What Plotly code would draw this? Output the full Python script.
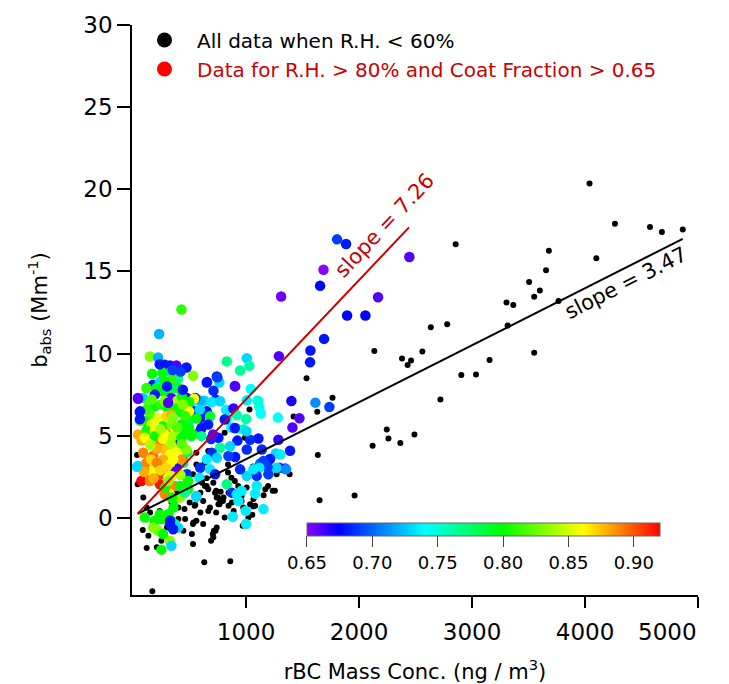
import plotly.graph_objects as go

# black points: all data when R.H. < 60%
bx = [4040, 4265, 4575, 4680, 4865, 4100, 3680, 3655, 3505, 3600, 3550, 3765, 3305, 3365, 3315,
      2855, 2780, 2635, 2560, 2460, 2430, 2380, 2905, 3035, 3155, 3550, 2720, 2490, 2365, 2245,
      2260, 2120, 2135, 1535, 1765, 1630, 1420, 1030, 1635, 1060, 1650, 1960, 1385, 1195, 1235,
      1155, 1065, 1065, 1020, 970, 1055, 975, 945, 875, 890, 845, 800, 845, 775, 740,
      770, 755, 725, 665, 635, 610, 710, 595, 620, 550, 595, 665, 740, 715, 705,
      535, 520, 460, 445, 530, 630, 860, 400, 415, 370, 170, 120, 85, 135, 210,
      255, 300, 40, 35, 90, 120, 250, 175, 400, 455, 500, 545, 530, 560, 690,
      710, 730, 620, 680, 735, 765, 810, 750, 735, 795, 650, 605, 650, 590, 560,
      635, 530, 485, 455, 440, 430, 385, 340, 310, 280, 235, 150, 840, 870, 900,
      930, 960, 840, 810, 990, 665, 560, 455, 1035, 1185, 1270, 1170, 1255, 960, 1005,
      1035, 1080]
by = [20.35, 17.9, 17.7, 17.4, 17.55, 15.8, 16.25, 15.07, 14.35, 13.84, 13.45, 13.2, 13.1, 12.95, 11.7,
      16.65, 11.78, 11.6, 10.12, 9.58, 9.3, 9.7, 8.7, 8.73, 9.6, 10.04, 7.2, 5.07, 4.56, 5.37,
      4.83, 4.38, 10.16, 8.5, 7.31, 6.46, 6.16, 6.6, 3.82, 3.13, 1.07, 1.35, 2.65, 1.94, 1.64,
      1.38, 1.13, 0.69, 0.02, -0.48, 0.18, 0.62, 1.03, 0.93, 0.42, 0.73, 1.23, 1.53, 1.58, 1.23,
      1.03, 0.83, 1.53, 1.74, 1.94, 2.14, 2.14, 1.53, 1.03, 0.79, 0.32, 0.42, -0.59, -0.79, -0.99,
      -0.28, -0.99, -0.08, -0.79, -1.6, -2.7, -2.65, 0.62, 1.33, 1.03, -4.47, -1.84, -0.75, -1.09, -1.8,
      -0.99, -0.59, 2.04, 3.82, 1.23, 0.62, -1.39, -0.69, -0.08, 0.53, 0.93, 0.73, -0.38, -0.18, -1.39,
      -1.19, -0.79, -0.38, 0.62, 0.32, 0.83, 0.02, 1.23, 1.64, 1.03, 1.94, 2.24, 2.4, 3.05, 3.25,
      3.35, 2.65, 2.75, 2.44, 1.74, 1.33, 1.53, 0.93, 1.23, 0.12, 0.42, 0.32, 2.75, 2.44, 2.24,
      1.94, 1.03, 3.25, 5.17, 4.87, 4.06, 3.96, 3.55, 2.65, 3.05, 2.65, 1.74, 1.64, 1.33, 1.84,
      0.83, 0.73]

# coloured points: R.H. > 80% and coat fraction > 0.65 (colour = coat fraction)
cx = [1805, 1885, 1685, 1655, 1310, 2445, 2168, 1894, 2056, 1690, 1569, 1566, 1290, 1006, 1029,
      1041, 1109, 1117, 1130, 1281, 1000, 1401, 1613, 1737, 1472, 1410, 1286, 1109, 1035, 1389,
      1139, 1263, 1212, 1124, 1345, 1295, 829, 947, 903, 741, 764, 652, 711, 732, 631,
      696, 593, 770, 823, 888, 917, 1006, 1100, 829, 917, 977, 870, 1301, 1270, 1354,
      1153, 1190, 1117, 1197, 1094, 1006, 1064, 947, 903, 843, 1006, 923, 755, 690, 858,
      770, 696, 741, 652, 593, 681, 726, 587, 829, 873, 917, 960, 1080, 1094, 1153,
      1000, 997, 882, 932, 558, 475, 445, 381, 372, 480, 416, 593, 460, 504, 593,
      540, 652, 519, 681, 475, 549, 481,
      428, 230, 148, 221, 280, 325, 383, 472, 333, 168, 260, 398, 339, 531, 655,
      746, 900, 177, 236, 206, 250, 304, 398, 89, 44, 192, 339, 392, 540, 496,
      590, 139, 192, 250, 304, 383, 59, 148, 221, 295, 339, 422, 496, 560, 811,
      900, 1003, 103, 162, 265, 339, 428, 496, 605, 664, 44, 118, 192, 304, 369,
      457, 530, 708, 75, 103, 192, 280, 354, 427, 515, 604, 89, 177, 236, 280,
      325, 398, 428, 470, 44, 118, 192, 265, 325, 383, 118, 177, 250, 310, 73,
      148, 236, 310, 369, 487, 487, 560, 325, 280, 354, 413, 103, 192, 236, 310,
      339, 177, 221, 265, 369, 398, 325, 339, 250, 325, 354,
      150, 210, 265, 160, 210, 290, 355, 240, 340, 180, 420, 95,
      118, 280, 360, 430, 165, 280, 440, 120, 350, 460, 60, 240, 390, 155, 335, 430,
      235, 300, 420, 310, 60, 440, 350, 42, 62, 33,
      283, 342, 357, 254, 327, 416, 460, 312]
cy = [16.95, 16.67, 15.1, 14.12, 13.47, 15.88, 13.43, 12.32, 12.32, 10.89, 10.18, 9.47, 9.84, 9.72, 9.25,
      7.84, 7.09, 6.73, 6.35, 6.1, 6.02, 7.11, 7.01, 6.75, 6.06, 5.5, 4.75, 4.83, 4.75, 4.08,
      4.16, 3.92, 3.58, 3.3, 3.0, 3.05, 9.52, 8.97, 8.0, 8.6, 8.24, 8.24, 7.74, 7.19, 7.13,
      7.05, 7.13, 7.1, 6.57, 6.65, 6.24, 7.15, 7.13, 6.04, 5.44, 5.39, 5.5, 3.85, 3.05, 2.95,
      3.45, 3.1, 3.05, 2.65, 2.55, 2.55, 2.95, 2.95, 3.7, 3.76, 4.16, 4.7, 4.87, 4.8, 4.36,
      4.26, 3.96, 3.65, 3.56, 3.05, 2.95, 2.65, 2.44, 2.04, 1.53, 1.44, 1.65, 1.47, 1.94, 0.53,
      -0.38, 0.42, 0.06, 1.03, 1.27, 2.65, 3.35, 3.15, 2.75, 4.0, 4.67, 5.27, 5.07, 5.98, 6.08,
      6.48, 6.48, 7.09, 6.18, 7.29, 7.29, 6.06,
      12.68, 11.19, 9.82, 9.76, 9.31, 9.27, 9.27, 9.15, 8.87, 8.77, 8.85, 8.47, 8.4, 8.65, 8.26,
      8.55, 8.02, 8.1, 8.26, 7.9, 7.7, 7.7, 7.9, 7.29, 7.25, 7.5, 7.29, 7.13, 7.25, 7.05,
      6.59, 6.89, 6.79, 6.9, 6.69, 6.65, 6.44, 6.3, 6.08, 6.18, 6.28, 6.44, 6.48, 6.04, 5.98,
      5.47, 5.27, 5.88, 5.68, 5.58, 5.68, 5.68, 5.47, 5.47, 5.68, 5.07, 5.3, 5.3, 5.07, 5.07,
      5.17, 5.07, 5.07, 4.7, 4.87, 4.97, 5.07, 4.97, 4.87, 4.97, 4.97, 3.96, 3.76, 4.47, 4.16,
      3.86, 4.16, 3.55, 4.16, 3.15, 3.35, 3.15, 3.55, 3.25, 2.85, 2.75, 2.75, 2.65, 2.45, 2.24,
      2.24, 2.04, 2.04, 1.94, 2.24, 1.74, 1.33, 1.43, 1.43, 1.13, 1.23, 0.02, -0.18, 0.22, 0.22,
      -0.18, -0.59, -0.79, -0.99, -0.38, -0.59, -1.39, -1.7, -1.94, -0.38, -0.7,
      4.47, 4.2, 4.8, 3.55, 3.35, 3.05, 3.55, 2.9, 2.55, 2.4, 2.6, 2.8,
      7.9, 8.3, 7.9, 7.4, 7.2, 7.1, 6.9, 6.6, 6.1, 6.2, 5.9, 5.4, 5.5, 4.4, 4.5, 4.5,
      9.35, 8.0, 8.9, 7.0, 6.0, 7.8, 9.0, 7.29, 6.48, 3.1,
      1.84, 1.23, 0.62, -0.08, -0.18, 1.94, 1.53, 2.24]
cc = [0.69, 0.68, 0.65, 0.675, 0.655, 0.66, 0.66, 0.675, 0.675, 0.68, 0.68, 0.68, 0.66, 0.73, 0.76,
      0.74, 0.74, 0.745, 0.74, 0.74, 0.76, 0.67, 0.71, 0.69, 0.66, 0.66, 0.665, 0.68, 0.685, 0.68,
      0.685, 0.73, 0.68, 0.70, 0.68, 0.66, 0.77, 0.765, 0.66, 0.68, 0.73, 0.68, 0.685, 0.68, 0.73,
      0.735, 0.72, 0.73, 0.735, 0.665, 0.76, 0.735, 0.75, 0.735, 0.765, 0.76, 0.735, 0.735, 0.73, 0.71,
      0.69, 0.69, 0.735, 0.69, 0.685, 0.73, 0.735, 0.685, 0.68, 0.69, 0.685, 0.68, 0.68, 0.685, 0.73,
      0.765, 0.685, 0.73, 0.735, 0.685, 0.735, 0.68, 0.735, 0.77, 0.685, 0.735, 0.735, 0.735, 0.735, 0.735,
      0.735, 0.735, 0.735, 0.735, 0.735, 0.685, 0.77, 0.68, 0.68, 0.78, 0.68, 0.68, 0.83, 0.73, 0.68,
      0.68, 0.68, 0.73, 0.79, 0.68, 0.68, 0.79,
      0.81, 0.72, 0.83, 0.72, 0.68, 0.68, 0.66, 0.68, 0.73, 0.80, 0.80, 0.77, 0.81, 0.83, 0.68,
      0.69, 0.66, 0.68, 0.73, 0.79, 0.80, 0.79, 0.80, 0.73, 0.66, 0.68, 0.66, 0.84, 0.86, 0.80,
      0.73, 0.82, 0.80, 0.81, 0.80, 0.80, 0.68, 0.82, 0.855, 0.87, 0.88, 0.80, 0.86, 0.80, 0.68,
      0.68, 0.73, 0.80, 0.855, 0.80, 0.83, 0.80, 0.80, 0.68, 0.68, 0.88, 0.80, 0.86, 0.89, 0.86,
      0.80, 0.80, 0.66, 0.88, 0.86, 0.80, 0.86, 0.84, 0.80, 0.80, 0.77, 0.89, 0.895, 0.89, 0.875,
      0.86, 0.86, 0.885, 0.83, 0.73, 0.89, 0.86, 0.88, 0.86, 0.66, 0.89, 0.86, 0.905, 0.86, 0.92,
      0.89, 0.915, 0.86, 0.89, 0.80, 0.80, 0.73, 0.86, 0.89, 0.80, 0.83, 0.80, 0.80, 0.80, 0.80,
      0.80, 0.83, 0.83, 0.80, 0.77, 0.73, 0.83, 0.73, 0.80, 0.68, 0.68,
      0.87, 0.88, 0.86, 0.87, 0.89, 0.87, 0.86, 0.87, 0.85, 0.88, 0.84, 0.88,
      0.81, 0.80, 0.78, 0.80, 0.82, 0.83, 0.83, 0.81, 0.83, 0.81, 0.82, 0.84, 0.82, 0.84, 0.84, 0.82,
      0.68, 0.68, 0.69, 0.66, 0.68, 0.68, 0.69, 0.66, 0.68, 0.73,
      0.80, 0.80, 0.80, 0.80, 0.68, 0.80, 0.77, 0.83]

# fit lines
fit_black_x = [40, 4865]
fit_black_y = [0.24, 16.98]
fit_red_x = [42, 2442]
fit_red_y = [0.26, 17.68]

x_ticks = [1000, 2000, 3000, 4000, 5000]
y_ticks = [0, 5, 10, 15, 20, 25, 30]
cb_ticks = [0.65, 0.70, 0.75, 0.80, 0.85, 0.90]

rainbow = [[0.0, 'rgb(140,0,255)'], [0.09, 'rgb(0,0,255)'], [0.333, 'rgb(0,255,255)'],
           [0.555, 'rgb(0,255,0)'], [0.78, 'rgb(255,255,0)'], [1.0, 'rgb(255,0,0)']]

font = 'DejaVu Sans'
red = 'rgb(204,0,0)'

fig = go.Figure()

fig.add_trace(go.Scatter(x=bx, y=by, mode='markers', showlegend=False,
                         marker=dict(color='black', size=6)))

fig.add_trace(go.Scatter(x=cx, y=cy, mode='markers', showlegend=False,
                         marker=dict(color=cc, colorscale=rainbow, cmin=0.65, cmax=0.92, size=10.5,
                                     line=dict(width=0),
                                     colorbar=dict(orientation='h', x=0.621, xanchor='center',
                                                   y=0.127, yanchor='top', len=353, lenmode='pixels',
                                                   thickness=13, outlinewidth=1, outlinecolor='#666',
                                                   ticks='outside', ticklen=11, tickwidth=1, tickcolor='#444',
                                                   tickvals=cb_ticks, ticktext=['%.2f' % t for t in cb_ticks],
                                                   tickfont=dict(size=18, family=font, color='black'),
                                                   xpad=0, ypad=0))))

fig.add_trace(go.Scatter(x=fit_black_x, y=fit_black_y, mode='lines', showlegend=False,
                         line=dict(color='black', width=2)))
fig.add_trace(go.Scatter(x=fit_red_x, y=fit_red_y, mode='lines', showlegend=False,
                         line=dict(color=red, width=2)))

# legend entries
fig.add_trace(go.Scatter(x=[None], y=[None], mode='markers', name='All data when R.H. < 60%',
                         marker=dict(color='black', size=15)))
fig.add_trace(go.Scatter(x=[None], y=[None], mode='markers',
                         name='<span style="color:rgb(204,0,0)">Data for R.H. > 80% and Coat Fraction > 0.65</span>',
                         marker=dict(color='rgb(255,0,0)', size=15)))

fig.add_annotation(x=4361, y=14.3, text='slope = 3.47', showarrow=False, textangle=-26.9,
                   font=dict(size=21, family=font, color='black'))
fig.add_annotation(x=2230, y=17.8, text='slope = 7.26', showarrow=False, textangle=-46.7,
                   font=dict(size=21, family=font, color=red))

# last x tick label is pulled inside the axis end, as in the original
fig.add_annotation(x=x_ticks[-1], xref='x', y=-0.0646, yref='paper', text=str(x_ticks[-1]),
                   showarrow=False, xanchor='right', yanchor='middle', xshift=1,
                   font=dict(size=23, family=font, color='black'))

# the page body has an 8px margin, so the figure is 8px smaller than the window
fig.update_layout(
    width=721, height=676,
    margin=dict(l=124, r=31, t=14, b=89),
    paper_bgcolor='white', plot_bgcolor='white',
    font=dict(family=font, size=21, color='black'),
    legend=dict(x=0.0, y=1.008, xanchor='left', yanchor='top', bgcolor='rgba(0,0,0,0)',
                font=dict(size=20, family=font), itemsizing='trace', itemwidth=55),
    xaxis=dict(range=[-10, 5000], tickvals=x_ticks, ticktext=[str(t) for t in x_ticks[:-1]] + [''],
               showgrid=False, zeroline=False, showline=True, linecolor='black', linewidth=1.5,
               automargin=False, ticks='outside', ticklen=11, tickwidth=1.5, tickcolor='black',
               ticklabelstandoff=5, tickfont=dict(size=23),
               title=dict(text='rBC Mass Conc. (ng / m<sup>3</sup>)', font=dict(size=21), standoff=20)),
    yaxis=dict(range=[-4.7, 30], tickvals=y_ticks, showgrid=False,
               zeroline=False, showline=True, linecolor='black', linewidth=1.5, automargin=False,
               ticks='outside', ticklen=13, tickwidth=1.5, tickcolor='black', ticklabelstandoff=0,
               tickfont=dict(size=23),
               title=dict(text='b<sub>abs</sub> (Mm<sup>-1</sup>)', font=dict(size=21), standoff=30)),
)

fig.write_html('out.html')
